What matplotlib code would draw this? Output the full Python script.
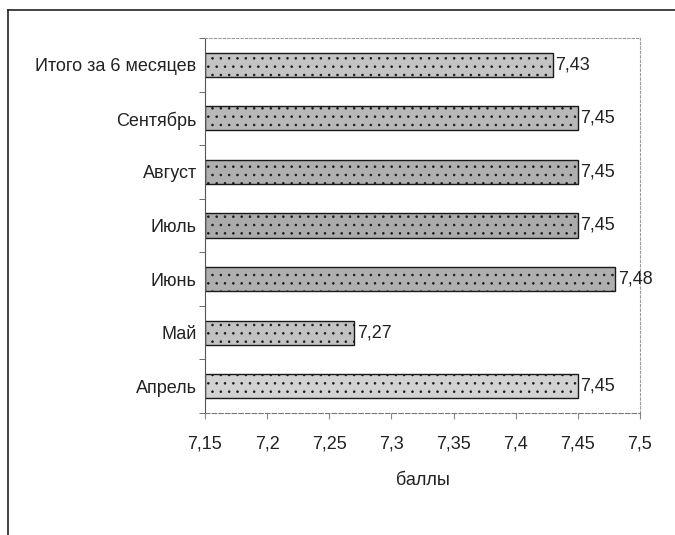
import matplotlib
matplotlib.use('Agg')
import matplotlib.pyplot as plt
from matplotlib.ticker import FixedLocator

plt.rcParams['font.family'] = ['Liberation Sans Narrow', 'Liberation Sans', 'DejaVu Sans']
plt.rcParams['hatch.color'] = '#9a9a9a'
plt.rcParams['hatch.linewidth'] = 0.6

categories = ['Апрель', 'Май', 'Июнь', 'Июль', 'Август', 'Сентябрь', 'Итого за 6 месяцев']
values = [7.45, 7.27, 7.48, 7.45, 7.45, 7.45, 7.43]
labels = ['7,45', '7,27', '7,48', '7,45', '7,45', '7,45', '7,43']
bar_colors = ['#d2d2d2', '#c2c2c2', '#afafaf', '#ababab', '#afafaf', '#b8b8b8', '#c4c4c4']
xticks = [7.15, 7.2, 7.25, 7.3, 7.35, 7.4, 7.45, 7.5]
xtick_labels = ['7,15', '7,2', '7,25', '7,3', '7,35', '7,4', '7,45', '7,5']

fig = plt.figure(figsize=(6.75, 5.35), dpi=100)
ax = fig.add_axes([205/675, 1 - 413/535, 435/675, 375/535])

# outer frame of the scanned chart
fig.add_artist(plt.Line2D([8/675, 8/675], [0, 1 - 10/535], color='#222222', lw=1.2))
fig.add_artist(plt.Line2D([8/675, 1], [1 - 10/535, 1 - 10/535], color='#222222', lw=1.2))

base = xticks[0]
pos = range(len(categories))
ax.barh(pos, [v - base for v in values], left=base, height=0.45,
        color=bar_colors, edgecolor='#1a1a1a', linewidth=1.0, hatch='..')

for i, (v, t) in enumerate(zip(values, labels)):
    ax.text(v + 0.002, i, t, va='center', ha='left', fontsize=13, color='#222222')

ax.set_xlim(7.15, 7.5)
ax.set_ylim(-0.5, len(categories) - 0.5)
ax.set_xticks(xticks)
ax.set_xticklabels(xtick_labels, fontsize=13, color='#222222')
ax.set_yticks(list(pos))
ax.set_yticklabels(categories, fontsize=13, color='#222222')
ax.yaxis.set_minor_locator(FixedLocator([i + 0.5 for i in range(-1, len(categories))]))
ax.tick_params(axis='y', which='major', length=0, pad=6)
ax.tick_params(axis='y', which='minor', length=4, color='#555555')
ax.tick_params(axis='x', length=4, color='#888888', pad=12)
ax.set_xlabel('баллы', fontsize=13, color='#222222', labelpad=14)

ax.spines['left'].set_color('#555555')
ax.spines['bottom'].set_color('#777777')
ax.spines['bottom'].set_linestyle((0, (4, 2)))
for s in ['top', 'right']:
    ax.spines[s].set_color('#999999')
    ax.spines[s].set_linestyle((0, (2, 2)))
    ax.spines[s].set_linewidth(0.8)

fig.savefig('out.png', dpi=100)
